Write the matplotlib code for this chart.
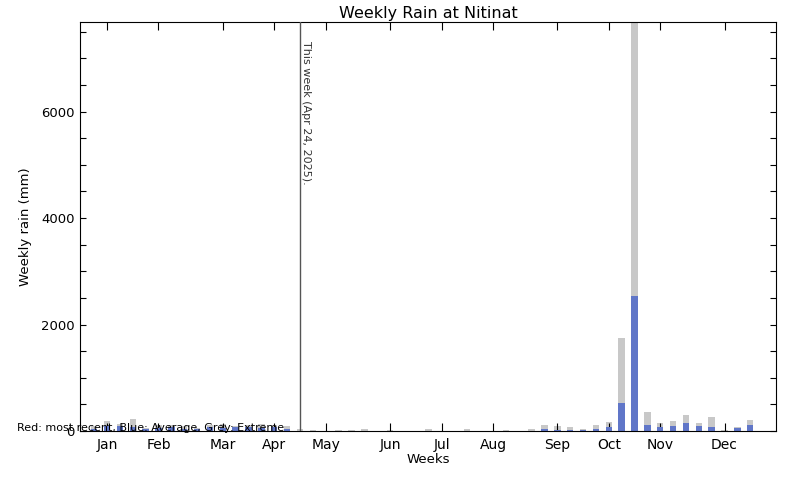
import numpy as np
import matplotlib.pyplot as plt

plt.rcParams['font.family'] = ['DejaVu Sans']

# week numbers 1..52
weeks = np.arange(1, 53)

# extreme (grey) weekly rain, mm
extreme = [95, 190, 130, 225, 60, 110, 110, 95, 60, 110, 130, 95, 110, 130, 110, 95,
           35, 20, 0, 20, 20, 35, 0, 20, 0, 0, 35, 0, 0, 35, 0, 0, 20, 0, 40, 110,
           95, 75, 35, 110, 170, 1740, 7680, 355, 150, 190, 300, 150, 260, 20, 75, 205]

# average (blue) weekly rain, mm
average = [30, 95, 95, 75, 40, 55, 75, 40, 30, 75, 55, 75, 75, 60, 75, 35,
           10, 5, 5, 5, 5, 5, 5, 5, 5, 5, 5, 5, 5, 5, 5, 5, 5, 5, 10, 40,
           20, 25, 25, 40, 75, 525, 2530, 110, 75, 95, 150, 95, 75, 5, 55, 110]

# most recent (red) weekly rain, mm (nothing recorded this year so far)
recent = [0] * 16

month_names = ['Jan', 'Feb', 'Mar', 'Apr', 'May', 'Jun',
               'Jul', 'Aug', 'Sep', 'Oct', 'Nov', 'Dec']
month_weeks = [2, 6, 11, 15, 19, 24, 28, 32, 37, 41, 45, 50]
this_week = 17

fig = plt.figure(figsize=(8, 4.8), dpi=100)
ax = fig.add_axes([0.1, 0.102, 0.87, 0.852])

ax.bar(weeks, extreme, width=0.5, color='#c8c8c8', linewidth=0, zorder=1)
ax.bar(weeks, average, width=0.5, color='#6076c8', linewidth=0, zorder=2)
ax.bar(weeks[:len(recent)], recent, width=0.25, color='#e02020', linewidth=0, zorder=3)

ax.axvline(this_week, color='#555555', lw=1.0, zorder=4)
ax.text(this_week + 0.1, 7330, 'This week (Apr 24, 2025).', rotation=270,
        ha='left', va='top', fontsize=8, color='#333333')

ax.set_xlim(-0.1, 54)
ax.set_ylim(0, 7680)

ax.set_xticks(month_weeks)
ax.set_xticklabels(month_names, fontsize=10)
ax.set_yticks([0, 2000, 4000, 6000])
ax.set_yticks(np.arange(0, 7680, 500), minor=True)
ax.tick_params(axis='y', labelsize=9.5)
ax.tick_params(axis='both', which='both', direction='in', top=True, right=True,
               width=0.8, color='black')
ax.tick_params(axis='x', which='major', length=5.8, pad=5)
ax.tick_params(axis='y', which='both', length=4.5, pad=4)
ax.tick_params(axis='x', which='minor', length=0)

for s in ax.spines.values():
    s.set_linewidth(0.8)

ax.set_title('Weekly Rain at Nitinat', fontsize=11.5, pad=3)
ax.set_xlabel('Weeks', fontsize=9.5, labelpad=1)
ax.set_ylabel('Weekly rain (mm)', fontsize=9.5, labelpad=6)

fig.text(17 / 800, 1 - 428 / 480, 'Red: most recent, Blue: Average, Grey: Extreme',
         fontsize=8, ha='left', va='center')

fig.savefig('out.png', dpi=100)
